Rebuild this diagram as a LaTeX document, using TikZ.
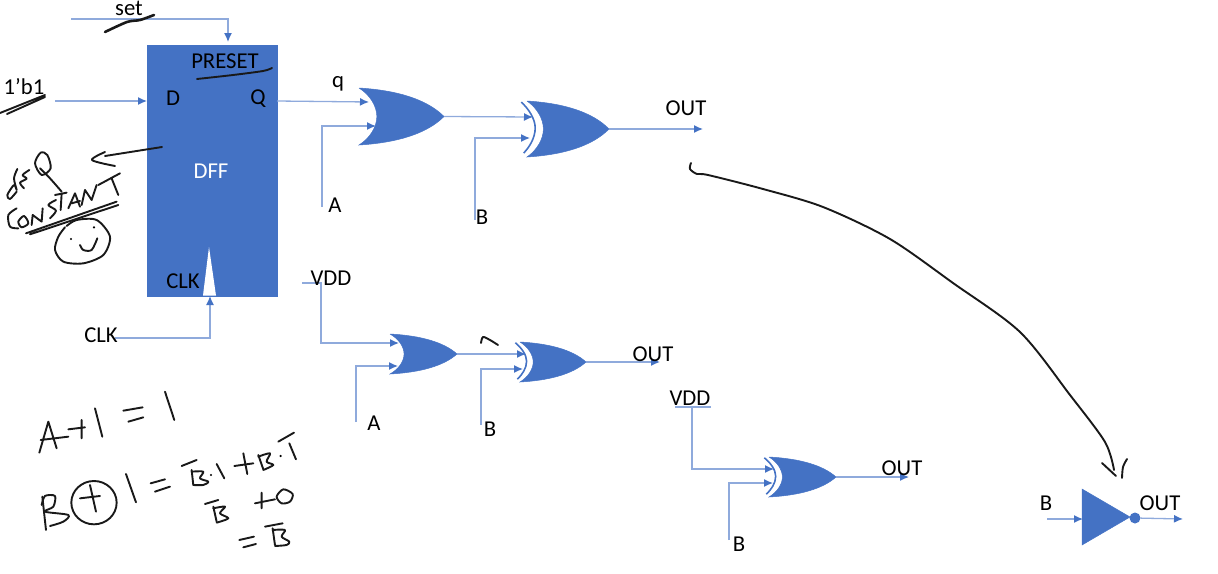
\documentclass[tikz,border=0pt]{standalone}
\usepackage{fontspec}
\setmainfont{Carlito}
\definecolor{gateblue}{RGB}{68, 114, 196}
\definecolor{wireblue}{RGB}{143, 170, 220}
\usetikzlibrary{arrows.meta, calc}

\begin{document}
\begin{tikzpicture}[
  x=1pt, y=-1pt,
  lbl/.style={inner sep=0pt, font=\fontsize{22.7}{26}\selectfont},
  plainwire/.style={draw=wireblue, line width=1.3pt},
  wire/.style={plainwire, -{Latex[length=9pt, width=8pt, color=gateblue]}},
  body/.style={fill=gateblue, draw=gateblue, line width=0.5pt},
  ink/.style={draw=black!90, line width=1.9pt, line cap=round, line join=round},
  orgate/.pic={
    \path[body] (0,0) .. controls (.45,.04) and (.8,.2) .. (1,.5)
      .. controls (.8,.8) and (.45,.96) .. (0,1)
      .. controls (.13,.88) and (.21,.68) .. (.21,.5)
      .. controls (.21,.32) and (.13,.12) .. (0,0);
    \coordinate (-out) at (1,.5);
  },
  xorgate/.pic={
    \path[body] (0,0) .. controls (.45,.04) and (.8,.2) .. (1,.5)
      .. controls (.8,.8) and (.45,.96) .. (0,1)
      .. controls (.12,.88) and (.2,.68) .. (.2,.5)
      .. controls (.2,.32) and (.12,.12) .. (0,0);
    \draw[gateblue, line width=1.6pt] (-.07,.02) .. controls (.02,.14) and (.10,.32) .. (.10,.48)
      .. controls (.10,.66) and (.03,.82) .. (-.04,.93);
    \coordinate (-out) at (1,.5);
  }
]
  \useasboundingbox (0,0) rectangle (1218,573);

  \coordinate (setin) at (71,19);
  \coordinate (dffset) at (228,42);
  \coordinate (dataIn) at (55,101);
  \coordinate (dffD) at (147,101);
  \coordinate (dffQ) at (277,101);
  \coordinate (clkIn) at (115,338);
  \coordinate (dffClk) at (210,296);
  \coordinate (orAq) at (369,102);
  \coordinate (orAb) at (376,126);
  \coordinate (wireA) at (322,207);
  \coordinate (xorAa) at (533,117);
  \coordinate (xorAb) at (530,138);
  \coordinate (wireB) at (475,220);
  \coordinate (outA) at (703,129);
  \coordinate (vddA) at (302,283);
  \coordinate (vddBend) at (321,343);
  \coordinate (orBa) at (399,343);
  \coordinate (orBb) at (398,366);
  \coordinate (wireAA) at (356,422);
  \coordinate (xorBa) at (526,354);
  \coordinate (xorBb) at (523,369);
  \coordinate (wireBB) at (481,425);
  \coordinate (outB) at (660,362);
  \coordinate (vddL) at (675,407);
  \coordinate (vddR) at (711,407);
  \coordinate (vddC) at (692,407);
  \coordinate (xorCa) at (774,469);
  \coordinate (xorCb) at (773,483);
  \coordinate (wireC) at (729,540);
  \coordinate (outC) at (909,477);
  \coordinate (invIn) at (1083,519);
  \coordinate (wireInv) at (1047,519);
  \coordinate (outInv) at (1183,519);

  \node[fill=gateblue, draw=gateblue, minimum width=130pt, minimum height=251pt, inner sep=0pt] (dff) at (212,170.5) {};
  \fill[white] (203,295.5) -- (216,295.5) -- (209,247) -- cycle;

  \draw[wire] (setin) -| (dffset);
  \draw[wire] (dataIn) -- (dffD);
  \draw[wire] (clkIn) -| (dffClk);
  \draw[wire] (dffQ) -- (orAq);
  \draw[wire] (wireA) |- (orAb);
  \draw[wire] (wireB) |- (xorAb);
  \draw[wire] (vddA) -| (vddBend) -- (orBa);
  \draw[wire] (wireAA) |- (orBb);
  \draw[wire] (wireBB) |- (xorBb);
  \draw[plainwire] (vddL) -- (vddR);
  \draw[wire] (vddC) |- (xorCa);
  \draw[wire] (wireC) |- (xorCb);
  \draw[wire] (wireInv) -- (invIn);

  \pic[xscale=85, yscale=57] (orA) at (359,88) {orgate};
  \pic[xscale=82, yscale=56] (xorA) at (527,101) {xorgate};
  \pic[xscale=67, yscale=40] (orB) at (390,334) {orgate};
  \pic[xscale=66, yscale=40] (xorB) at (520,342) {xorgate};
  \pic[xscale=67, yscale=40] (xorC) at (769,457) {xorgate};

  \draw[wire] (orA-out) -- (xorAa);
  \draw[wire] (xorA-out) -- (outA);
  \draw[wire] (orB-out) -- (xorBa);
  \draw[wire] (xorB-out) -- (outB);
  \draw[wire] (xorC-out) -- (outC);

  \path[body] (1082,489) -- (1130,517) -- (1082,545) -- cycle;
  \node[circle, fill=gateblue, minimum size=11pt, inner sep=0pt] (bubble) at (1135,518) {};
  \draw[wire] (bubble) -- (outInv);

  \node[lbl] (setLbl) at (129,8) {set};
  \node[lbl] (dataLbl) at (24,87) {1’b1};
  \node[lbl] (dLbl) at (173,98) {D};
  \node[lbl] (qLbl) at (258,99) {Q};
  \node[lbl] (presetLbl) at (225,61) {PRESET};
  \node[lbl, white] (dffLbl) at (211,171) {DFF};
  \node[lbl] (clkLbl) at (183,281) {CLK};
  \node[lbl] (clkInLbl) at (101,335) {CLK};
  \node[lbl] (qWire) at (338,84) {q};
  \node[lbl] (aLbl) at (335,205) {A};
  \node[lbl] (bLbl) at (482,217) {B};
  \node[lbl] (outLbl) at (686,108) {OUT};
  \node[lbl] (vddLbl) at (331,278) {VDD};
  \node[lbl] (aaLbl) at (374,423) {A};
  \node[lbl] (bbLbl) at (490,429) {B};
  \node[lbl] (outbLbl) at (653,354) {OUT};
  \node[lbl] (vddcLbl) at (690,398) {VDD};
  \node[lbl] (bcLbl) at (739,544) {B};
  \node[lbl] (outcLbl) at (902,468) {OUT};
  \node[lbl] (binvLbl) at (1046,503) {B};
  \node[lbl] (outinvLbl) at (1160,503) {OUT};

  % pen strokes
  \draw[ink, line width=2.6pt] plot[smooth] coordinates {(105,32) (127,22) (140,20) (154,15)};
  \draw[ink] (0,113) -- (45,95) (7,114) -- (45,97);
  \draw[ink] plot[smooth] coordinates {(197,79) (233,75) (263,71) (272,68)};
  \draw[ink] (162,147) -- (105,156);
  \draw[ink] plot[smooth] coordinates {(105,152) (92,160) (115,166)};
  \draw[ink] plot[smooth] coordinates {(481,343) (483,337) (490,340) (498,345)};
  \draw[ink] plot[smooth] coordinates {(691,163) (690,169) (697,174) (708,175) (763,189) (823,207) (890,239) (953,283) (1020,332) (1070,395) (1105,442) (1114,470)};
  \draw[ink] (1102,463) -- (1116,476);
  \draw[ink] plot[smooth] coordinates {(1122,478) (1123,467) (1127,459)};

  \begin{scope}[shift={(0,140)}, x=0.3333pt, y=-0.3333pt]
    \draw[ink] plot[smooth] coordinates {(52,87) (42,115) (50,150) (42,135) (22,165) (30,177) (50,155)};
    \draw[ink] plot[smooth] coordinates {(88,90) (68,105) (80,116) (60,128) (72,145)};
    \draw[ink] plot[smooth cycle] coordinates {(122,38) (105,70) (125,105) (152,85) (142,45)};
    \draw[ink] plot[smooth] coordinates {(120,85) (150,115) (185,155)};
    \draw[ink] plot[smooth] coordinates {(50,205) (25,225) (30,260) (55,265)};
    \draw[ink] plot[smooth cycle] coordinates {(72,228) (55,245) (65,262) (85,250)};
    \draw[ink] (95,255) -- (98,225) -- (125,245) -- (128,205);
    \draw[ink] plot[smooth] coordinates {(168,180) (145,195) (168,212) (150,235)};
    \draw[ink] (165,165) -- (200,158) (185,160) -- (182,210);
    \draw[ink] (205,205) -- (225,160) -- (240,200) (215,190) -- (240,183);
    \draw[ink] (245,195) -- (255,150) -- (275,180) -- (290,135);
    \draw[ink] (295,135) -- (360,100) (335,115) -- (355,165);
    \draw[ink] (78,280) -- (350,185) (90,283) -- (355,195);
    \draw[ink] plot[smooth] coordinates {(195,262) (175,290) (165,330) (190,365) (250,370) (310,345) (330,290) (290,240) (230,240) (200,258)};
    \draw[ink] plot[smooth] coordinates {(240,315) (250,330) (275,330) (292,295)};
    \fill (213,297) circle[radius=1.2pt] (282,262) circle[radius=1.2pt];
  \end{scope}

  \begin{scope}[shift={(0,390)}, x=0.3333pt, y=-0.3333pt]
    \draw[ink] (118,188) -- (145,95) -- (170,175) (122,150) -- (205,140);
    \draw[ink] (205,118) -- (255,112) (245,90) -- (245,145);
    \draw[ink] (285,55) -- (307,140);
    \draw[ink] (370,62) -- (428,52) (385,95) -- (430,82);
    \draw[ink] (495,5) -- (523,90);
    \draw[ink] (127,320) -- (138,420);
    \draw[ink] plot[smooth] coordinates {(125,345) (135,318) (165,318) (160,350) (135,365) (205,375) (190,395) (150,408)};
    \draw[ink] (282,338) ellipse[x radius=68, y radius=65];
    \draw[ink] (240,325) -- (300,318) (270,285) -- (288,365);
    \draw[ink] (378,252) -- (408,337);
    \draw[ink] (452,280) -- (495,268) (465,305) -- (510,290);
    \draw[ink] (545,228) -- (590,210) (575,240) -- (580,285);
    \draw[ink] plot[smooth] coordinates {(575,245) (610,245) (600,265) (625,275) (610,285) (580,285)};
    \fill (633,255) circle[radius=1.2pt];
    \draw[ink] (650,222) -- (673,265);
    \draw[ink] (703,228) -- (760,220) (730,190) -- (742,252);
    \draw[ink] (775,195) -- (790,238);
    \draw[ink] plot[smooth] coordinates {(775,200) (810,190) (800,215) (820,225) (790,240)};
    \fill (842,198) circle[radius=1.2pt];
    \draw[ink] (868,160) -- (888,208) (835,155) -- (882,128);
    \draw[ink] (615,342) -- (655,330) (640,350) -- (650,395);
    \draw[ink] plot[smooth] coordinates {(640,355) (675,350) (660,370) (685,385) (650,398)};
    \draw[ink] (765,340) -- (825,328) (785,308) -- (785,355);
    \draw[ink] plot[smooth cycle] coordinates {(830,320) (850,298) (878,312) (870,335) (845,340)};
    \draw[ink] (718,450) -- (762,440) (730,472) -- (768,462);
    \draw[ink] (795,410) -- (848,400) (818,415) -- (825,465);
    \draw[ink] plot[smooth] coordinates {(818,420) (855,420) (845,440) (868,455) (860,465) (825,468)};
  \end{scope}
\end{tikzpicture}
\end{document}
